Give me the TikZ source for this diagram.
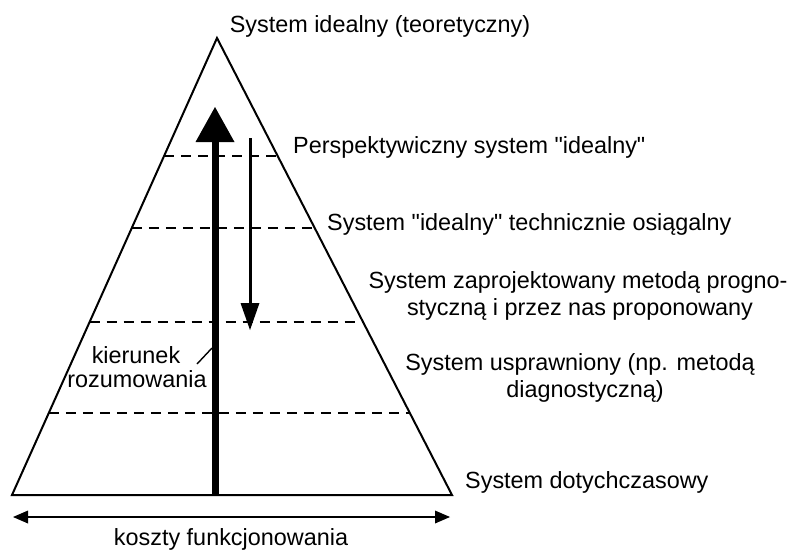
\documentclass[tikz,border=0pt]{standalone}
\usepackage{fontspec}
\setmainfont{Liberation Sans}[Ligatures=TeXOff]
\usetikzlibrary{calc}
\newcommand{\dq}{\char34\relax}
\begin{document}
\begin{tikzpicture}[x=1pt,y=-1pt,
  lbl/.style={inner sep=0pt, anchor=base, font=\fontsize{23.4}{27}\selectfont},
  lblw/.style={lbl, anchor=base west},
  tri/.style={line width=2pt, line join=miter},
  lvl/.style={line width=1.6pt, dash pattern=on 10pt off 7pt},
  ]
\useasboundingbox (0,0) rectangle (799,552);
% triangle
\coordinate (apex) at (217,38);
\coordinate (bl) at (12,495);
\coordinate (br) at (452,495);
\draw[tri] (bl) -- (apex) -- (br) -- cycle;
% dashed levels
\foreach \t in {0.2582,0.4158,0.6214,0.8206}{
  \draw[lvl] ($(apex)!\t!(bl)$) -- ($(apex)!\t!(br)$);
}
% thick upward arrow
\coordinate (tA) at (215,495);
\coordinate (tB) at (215,140);
\coordinate (tTip) at (215,107);
\draw[line width=7pt] (tA) -- (tB);
\fill (195.5,142) -- (tTip) -- (234.5,142) -- cycle;
% thin downward arrow
\coordinate (dA) at (250,138);
\coordinate (dB) at (250,305);
\coordinate (dTip) at (250,330);
\draw[line width=3pt] (dA) -- (dB);
\fill (240.5,303) -- (dTip) -- (259.5,303) -- cycle;
% bottom double arrow
\coordinate (hL) at (13,517);
\coordinate (hR) at (450,517);
\draw[line width=1.8pt] ($(hL)+(12,0)$) -- ($(hR)+(-12,0)$);
\fill (hL) -- ($(hL)+(15,-6.5)$) -- ($(hL)+(15,6.5)$) -- cycle;
\fill (hR) -- ($(hR)+(-15,-6.5)$) -- ($(hR)+(-15,6.5)$) -- cycle;
% leader
\coordinate (ldA) at (197,364);
\coordinate (ldB) at (212,348);
\draw[line width=1.4pt] (ldA) -- (ldB);
% labels
\node[lbl] (top) at (380,32) {System idealny (teoretyczny)};
\node[lblw] (l1) at (293,153) {Perspektywiczny system \dq idealny\dq};
\node[lblw] (l2) at (327,230) {System \dq idealny\dq\ technicznie osiągalny};
\node[lbl] (l3a) at (578,288) {System zaprojektowany metodą progno-};
\node[lbl] (l3b) at (580,315) {styczną i przez nas proponowany};
\node[lbl] (l4a) at (580,370) {System usprawniony (np. metodą};
\node[lbl] (l4b) at (585,397) {diagnostyczną)};
\node[lblw] (l5) at (465,488) {System dotychczasowy};
\node[lbl] (k1) at (136,363) {kierunek};
\node[lbl] (k2) at (137,387) {rozumowania};
\node[lbl] (kf) at (231,545) {koszty funkcjonowania};
\end{tikzpicture}
\end{document}
